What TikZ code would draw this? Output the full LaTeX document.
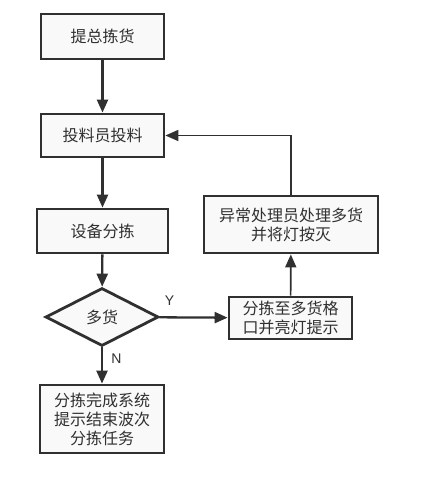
\documentclass[tikz,border=0pt]{standalone}
\usepackage{fontspec}
\newfontfamily\cjk{Noto Sans CJK SC}
\setmainfont{Liberation Sans}
\usetikzlibrary{arrows.meta,shapes.geometric,positioning}
\definecolor{ln}{HTML}{303030}
\definecolor{fl}{HTML}{F9F9F9}
\tikzset{
  box/.style={draw=ln,line width=2.8pt,fill=fl,inner sep=0pt,text=ln,font=\cjk\fontsize{16}{19}\selectfont,align=center},
  dec/.style={diamond,draw=ln,line width=2.8pt,fill=fl,inner sep=0pt,aspect=2,text=ln,font=\cjk\fontsize{16}{19}\selectfont},
  arr/.style={draw=ln,line width=2.3pt,-{Triangle[length=13pt,width=11pt]}},
  thinarr/.style={draw=ln,line width=1.7pt,-{Triangle[length=13pt,width=11pt]}},
  lbl/.style={text=ln,font=\fontsize{14}{16}\selectfont}
}
\begin{document}
\begin{tikzpicture}[x=1pt,y=-1pt]
\useasboundingbox (0,0) rectangle (421,479);
\node[box,minimum width=123pt,minimum height=45pt] (a) at (102.5,36.5) {提总拣货};
\node[box,minimum width=123pt,minimum height=43pt] (b) at (102.5,135.5) {投料员投料};
\node[box,minimum width=131pt,minimum height=44pt] (c) at (102.5,231) {设备分拣};
\node[dec,minimum width=113pt,minimum height=58pt] (d) at (102,317) {多货};
\node[box,minimum width=124pt,minimum height=68pt] (e) at (102,419) {分拣完成系统\\提示结束波次\\分拣任务};
\node[box,minimum width=123pt,minimum height=42pt] (f) at (290.5,318) {分拣至多货格\\口并亮灯提示};
\node[box,minimum width=174pt,minimum height=57pt] (g) at (291,224.5) {异常处理员处理多货\\并将灯按灭};
\draw[arr] (a) -- (b);
\draw[arr] (b) -- (c);
\draw[arr] (c) -- (d);
\draw[arr] (d) -- node[lbl,right=5pt,pos=0.3]{N} (e);
\draw[arr] (d) -- node[lbl,above=7pt,pos=0.15]{Y} (f);
\draw[thinarr] (f) -- (g);
\draw[thinarr] (g.north) |- (b.east);
\end{tikzpicture}
\end{document}
